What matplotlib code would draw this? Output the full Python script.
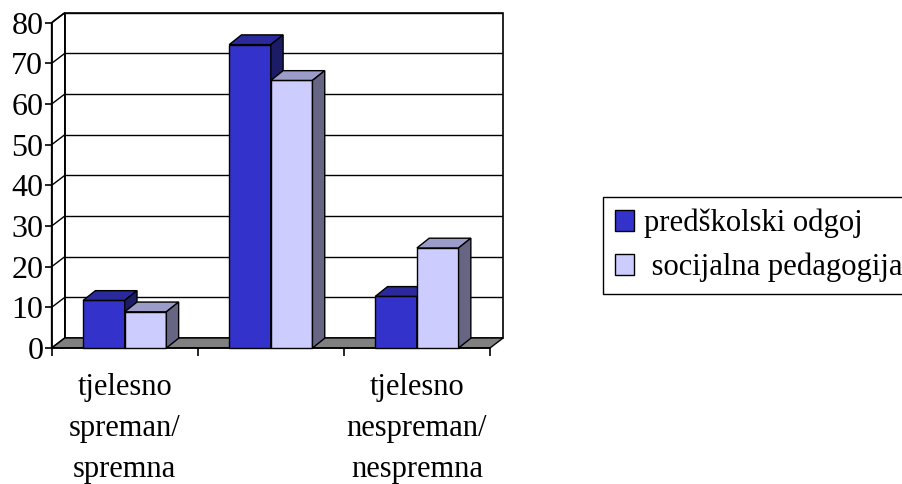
import matplotlib
matplotlib.use("Agg")
import matplotlib.pyplot as plt
from matplotlib.patches import Polygon, Patch

plt.rcParams['font.family'] = ['Liberation Serif', 'DejaVu Serif']

categories = ["tjelesno\nspreman/\nspremna", "", "tjelesno\nnespreman/\nnespremna"]
series_names = ["predškolski odgoj", " socijalna pedagogija"]
predskolski = [11.7, 74.6, 12.7]
socijalna = [8.9, 65.8, 24.6]
yticks = [0, 10, 20, 30, 40, 50, 60, 70, 80]

front_cols = ["#3333CC", "#CCCCFF"]
top_cols = ["#2A2A9C", "#9C9CC8"]
side_cols = ["#1C1C66", "#666684"]

dx, dy = 0.09, 2.46      # depth of the floor / walls in data units
bdx, bdy = 0.084, 2.4    # depth of the bars
bw = 0.285
ymax = 80

fig = plt.figure(figsize=(9.02, 4.84), dpi=100)
ax = fig.add_axes([0.0573, 0.281, 0.5005, 0.6928])
ax.set_xlim(0, 3 + dx)
ax.set_ylim(0, ymax + dy)
for s in ax.spines.values():
    s.set_visible(False)

def poly(pts, fc, z=1, lw=1.0):
    ax.add_patch(Polygon(pts, closed=True, facecolor=fc, edgecolor="black",
                         linewidth=lw, zorder=z, clip_on=False))

# back wall + left wall
poly([(dx, dy), (3 + dx, dy), (3 + dx, ymax + dy), (dx, ymax + dy)], "white", z=1, lw=1.2)
poly([(0, 0), (dx, dy), (dx, ymax + dy), (0, ymax)], "white", z=1, lw=1.2)
for v in yticks[1:]:
    ax.plot([dx, 3 + dx], [v + dy, v + dy], color="black", lw=1.0, zorder=2)
    ax.plot([0, dx], [v, v + dy], color="black", lw=1.0, zorder=2)

# floor
poly([(0, 0), (3, 0), (3 + dx, dy), (dx, dy)], "#808080", z=3, lw=1.0)

# front axes
ax.plot([0, 0], [0, ymax], color="black", lw=1.2, zorder=6, clip_on=False)
ax.plot([0, 3], [0, 0], color="black", lw=1.2, zorder=6, clip_on=False)

# bars
for i in range(len(categories)):
    for j, vals in enumerate([predskolski, socijalna]):
        x0 = i + 0.215 + j * bw
        x1 = x0 + bw
        h = vals[i]
        z = 10 + i * 2 + j
        poly([(x0, 0), (x1, 0), (x1, h), (x0, h)], front_cols[j], z=z)
        poly([(x0, h), (x1, h), (x1 + bdx, h + bdy), (x0 + bdx, h + bdy)], top_cols[j], z=z)
        poly([(x1, 0), (x1 + bdx, bdy), (x1 + bdx, h + bdy), (x1, h)], side_cols[j], z=z)

ax.set_yticks(yticks)
ax.set_yticklabels([str(v) for v in yticks], fontsize=23)
ax.tick_params(axis="y", length=5, width=1.2, pad=1, left=True)

ax.set_xticks([0, 1, 2, 3])
ax.set_xticklabels([])
ax.tick_params(axis="x", which="major", length=6, width=1.2, bottom=True)
ax.set_xticks([0.5, 1.5, 2.5], minor=True)
ax.set_xticklabels(categories, minor=True, fontsize=22, linespacing=1.55)
ax.tick_params(axis="x", which="minor", length=0, pad=18)

handles = [Patch(facecolor=front_cols[k], edgecolor="black", linewidth=1.0) for k in range(2)]
fig.legend(handles, series_names, loc="upper left", bbox_to_anchor=(603 / 902, 1 - 197 / 484),
           fontsize=22.1, frameon=True, fancybox=False, edgecolor="black", framealpha=1,
           handlelength=0.64, handleheight=0.64, handletextpad=0.3, borderpad=0.38,
           labelspacing=0.48, borderaxespad=0)

fig.savefig("out.png", dpi=100)
